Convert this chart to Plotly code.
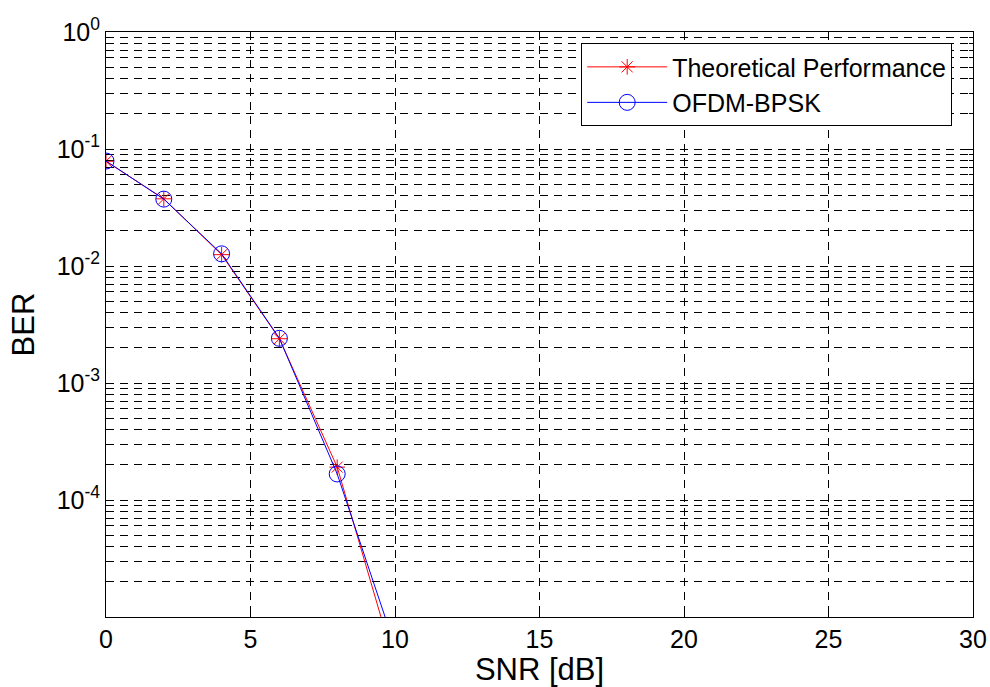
import plotly.graph_objects as go

# SNR en dB, points tous les 2 dB (au-delà de 10 dB les courbes sortent de l'axe)
snr_db = [0, 2, 4, 6, 8, 10]
ber_theory = [0.0786, 0.0375, 0.0125, 0.00239, 1.91e-4, 3.9e-6]
ber_ofdm = [0.0789, 0.0373, 0.0127, 0.00241, 1.67e-4, 5.6e-6]

y_major = [1e-4, 1e-3, 1e-2, 1e-1, 1]
y_major_text = ["10<sup>-4</sup>", "10<sup>-3</sup>", "10<sup>-2</sup>", "10<sup>-1</sup>", "10<sup>0</sup>"]
x_ticks = [0, 5, 10, 15, 20, 25, 30]

# grille mineure log façon MATLAB : 2..9 x 10^n
y_minor = [k * 10 ** e for e in range(-5, 0) for k in range(2, 10)]

FONT = "Liberation Sans, Arial, sans-serif"
DASH = "8px,6px"

fig = go.Figure()
fig.add_trace(go.Scatter(
    x=snr_db, y=ber_theory, mode="lines+markers", name="Theoretical Performance",
    line=dict(color="#ff0000", width=1),
    marker=dict(symbol="asterisk-open", size=13, color="#ff0000", line=dict(color="#ff0000", width=1)),
))
fig.add_trace(go.Scatter(
    x=snr_db, y=ber_ofdm, mode="lines+markers", name="OFDM-BPSK",
    line=dict(color="#0000ff", width=1),
    marker=dict(symbol="circle-open", size=16, color="#0000ff", line=dict(color="#0000ff", width=1)),
))

fig.update_layout(
    width=990, height=687,
    paper_bgcolor="white", plot_bgcolor="white",
    font=dict(family=FONT, color="black", size=26),
    margin=dict(l=106, r=17, t=32, b=70),
    legend=dict(
        x=0.976, xanchor="right", y=0.981, yanchor="top",
        bgcolor="white", bordercolor="black", borderwidth=1,
        font=dict(size=25), itemwidth=80,
    ),
)
fig.update_xaxes(
    range=[0, 30], tickvals=x_ticks, ticks="inside", ticklen=7, tickcolor="black",
    tickfont=dict(size=25),
    showline=True, linecolor="black", linewidth=1, mirror="ticks",
    showgrid=True, gridcolor="black", griddash=DASH, gridwidth=1, zeroline=False,
    automargin=False, title=dict(text="SNR [dB]", standoff=4),
)
fig.update_yaxes(
    type="log", range=[-5, 0], tickvals=y_major, ticktext=y_major_text,
    ticks="inside", ticklen=7, tickcolor="black",
    tickfont=dict(size=25),
    showline=True, linecolor="black", linewidth=1, mirror="ticks",
    showgrid=True, gridcolor="black", griddash=DASH, gridwidth=1, zeroline=False,
    minor=dict(tickvals=y_minor, ticks="inside", ticklen=4, tickcolor="black",
               showgrid=True, gridcolor="black", griddash=DASH, gridwidth=1),
    automargin=False, title=dict(text="BER", standoff=12),
)

# pas de marge de 8 px autour du body, pas de barre d'outils
fig.write_html(
    "out.html",
    config={"displayModeBar": False},
    post_script="document.body.style.margin='0px';",
)
